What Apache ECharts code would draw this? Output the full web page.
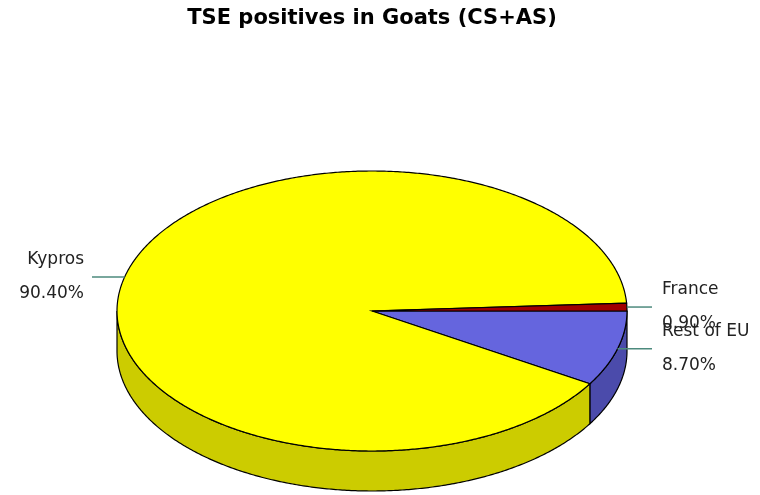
<!DOCTYPE html>
<html>
<head>
<meta charset="utf-8">
<script src="https://cdn.jsdelivr.net/npm/echarts@6/dist/echarts.min.js"></script>
<style>html,body{margin:0;padding:0;background:#fff;}#main{width:760px;height:495px;}</style>
</head>
<body>
<div id="main"></div>
<script>
// ---- data ----
const titleText = 'TSE positives in Goats (CS+AS)';
const categories = ['Rest of EU', 'Kypros', 'France'];
const values = [8.7, 90.4, 0.9];
const percentLabels = ['8.70%', '90.40%', '0.90%'];

// ---- styles ----
const topColors = ['#6565DE', '#FFFF00', '#A00000'];
const sideColors = ['#4B4BAB', '#CCCC00', '#700000'];
const CX = 372, CY = 311, RX = 255, RY = 140, DEPTH = 40;

const total = values.reduce((a, b) => a + b, 0);

function pt(a, dy) {
  return [CX + RX * Math.cos(a), CY + RY * Math.sin(a) + (dy || 0)];
}
function arc(a0, a1, dy) {
  const pts = [];
  const n = Math.max(2, Math.ceil((a1 - a0) / (Math.PI / 360)));
  for (let i = 0; i <= n; i++) pts.push(pt(a0 + (a1 - a0) * i / n, dy));
  return pts;
}

function renderItem(params, api) {
  const idx = params.dataIndex;
  const v = api.value(0);
  let before = 0;
  for (let i = 0; i < idx; i++) before += values[i];
  const a0 = before / total * 2 * Math.PI;
  const a1 = (before + v) / total * 2 * Math.PI;
  const children = [];
  // side wall (front half only)
  const s = Math.max(a0, 0), e = Math.min(a1, Math.PI);
  if (e > s) {
    const top = arc(s, e, 0);
    const bot = arc(s, e, DEPTH).reverse();
    children.push({
      type: 'polygon', z2: 1,
      shape: { points: top.concat(bot) },
      style: { fill: sideColors[idx], stroke: '#000', lineWidth: 1.2 }
    });
  }
  // top face
  children.push({
    type: 'polygon', z2: 2,
    shape: { points: [[CX, CY]].concat(arc(a0, a1, 0)) },
    style: { fill: topColors[idx], stroke: '#000', lineWidth: 1.2 }
  });
  // label
  const m = (a0 + a1) / 2;
  const p = pt(m, 0);
  const right = Math.cos(m) >= 0;
  const lx = right ? CX + 280 : CX - 280;
  const tx = right ? CX + 290 : CX - 288;
  children.push({
    type: 'polyline', z2: 3,
    shape: { points: [p, [lx, p[1]]] },
    style: { stroke: '#4D8A7D', lineWidth: 1.5, fill: null }
  });
  const font = '17px "DejaVu Sans"';
  children.push({
    type: 'text', z2: 4,
    style: { text: categories[idx], x: tx, y: p[1] - 17, fill: '#222', font: font,
             align: right ? 'left' : 'right', verticalAlign: 'middle' }
  });
  children.push({
    type: 'text', z2: 4,
    style: { text: percentLabels[idx], x: tx, y: p[1] + 17, fill: '#222', font: font,
             align: right ? 'left' : 'right', verticalAlign: 'middle' }
  });
  return { type: 'group', children: children };
}

const chart = echarts.init(document.getElementById('main'), null, { renderer: 'canvas' });
chart.setOption({
  animation: false,
  backgroundColor: '#fff',
  graphic: [{
    type: 'text', x: 372, y: 19,
    style: { text: titleText, font: 'bold 21px "DejaVu Sans"', fill: '#000',
             align: 'center', verticalAlign: 'middle' }
  }],
  series: [{
    type: 'custom',
    coordinateSystem: 'none',
    renderItem: renderItem,
    data: values.map((v, i) => ({ name: categories[i], value: [v] }))
  }]
});
</script>
</body>
</html>
